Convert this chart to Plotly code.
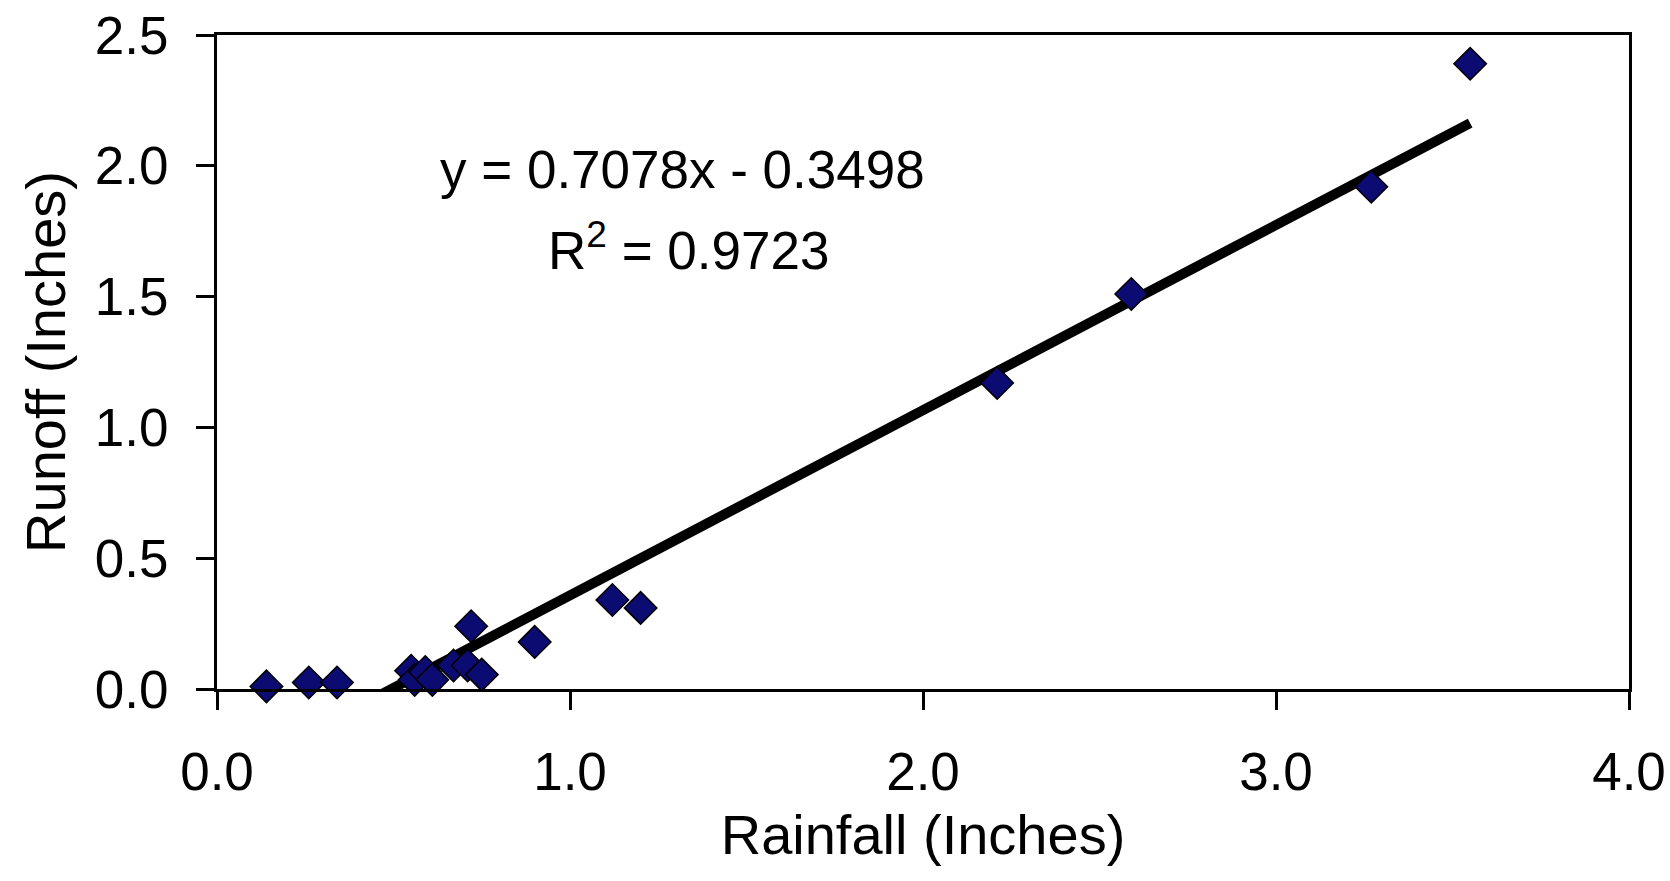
import plotly.graph_objects as go

# Data
rainfall = [0.14, 0.26, 0.34, 0.55, 0.56, 0.59, 0.61, 0.67, 0.71, 0.72, 0.75, 0.90, 1.12, 1.20, 2.21, 2.59, 3.27, 3.55]
runoff = [0.01, 0.025, 0.025, 0.07, 0.035, 0.065, 0.035, 0.09, 0.09, 0.24, 0.055, 0.18, 0.34, 0.31, 1.17, 1.51, 1.92, 2.39]

slope = 0.7078
intercept = -0.3498
r_squared = 0.9723

x_ticks = [0.0, 1.0, 2.0, 3.0, 4.0]
y_ticks = [0.0, 0.5, 1.0, 1.5, 2.0, 2.5]

trend_x = [min(rainfall), max(rainfall)]
trend_y = [slope * v + intercept for v in trend_x]

FONT = "Liberation Sans, Arial, sans-serif"

fig = go.Figure()
fig.add_trace(go.Scatter(
    x=trend_x, y=trend_y, mode="lines",
    line=dict(color="black", width=10),
    cliponaxis=True, showlegend=False, hoverinfo="skip",
))
fig.add_trace(go.Scatter(
    x=rainfall, y=runoff, mode="markers",
    marker=dict(symbol="diamond", size=25, color="#0b0b72",
                line=dict(color="black", width=1.5)),
    cliponaxis=False, showlegend=False,
))

fig.add_annotation(x=1.32, y=1.985, xref="x", yref="y", showarrow=False,
                   text=f"y = {slope:.4f}x - {abs(intercept):.4f}",
                   font=dict(family=FONT, size=53, color="black"))
fig.add_annotation(x=1.335, y=1.69, xref="x", yref="y", showarrow=False,
                   text=f"R<sup>2</sup> = {r_squared:.4f}",
                   font=dict(family=FONT, size=53, color="black"))

axis_common = dict(
    showgrid=False, zeroline=False, showline=True, linecolor="black",
    linewidth=3, mirror=True, ticks="outside", ticklen=18, tickwidth=3,
    tickcolor="black", tickfont=dict(family=FONT, size=53, color="black"),
)

fig.update_xaxes(
    range=[0, 4], tickvals=x_ticks, ticktext=[f"{v:.1f}" for v in x_ticks],
    title=dict(text="Rainfall (Inches)", font=dict(family=FONT, size=56, color="black"), standoff=16),
    ticklabelstandoff=16,
    **axis_common,
)
fig.update_yaxes(
    range=[0, 2.5], tickvals=y_ticks, ticktext=[f"{v:.1f}" for v in y_ticks],
    title=dict(text="Runoff (Inches)", font=dict(family=FONT, size=56, color="black"), standoff=12),
    ticklabelstandoff=17,
    **axis_common,
)

fig.update_layout(
    width=1670, height=881,
    margin=dict(l=217, r=41, t=35, b=192, autoexpand=False),
    plot_bgcolor="white", paper_bgcolor="white",
    font=dict(family=FONT, color="black"),
)

fig.write_html("out.html")
